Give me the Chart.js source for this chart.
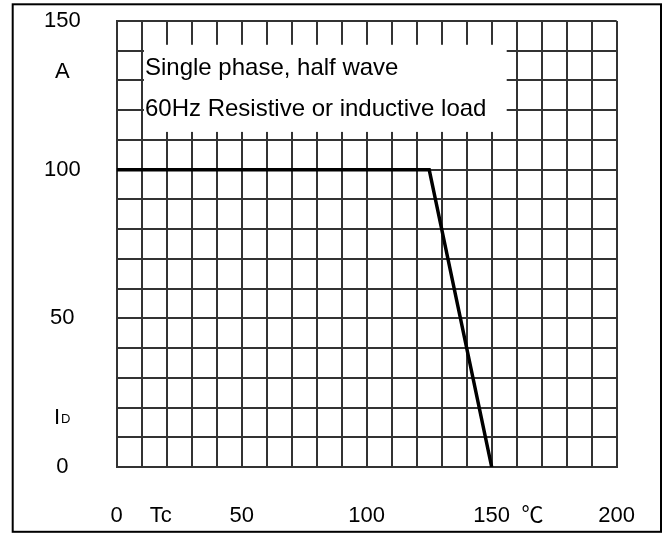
<!DOCTYPE html>
<html>
<head>
<meta charset="utf-8">
<script src="https://cdn.jsdelivr.net/npm/chart.js@4/dist/chart.umd.min.js"></script>
<style>
  body { margin: 0; background: #fff; }
  canvas { display: block; }
</style>
</head>
<body>
<canvas id="myChart" width="667" height="534"></canvas>
<script>
'use strict'

// derating curve: case temperature (°C) vs average forward current (A)
const tcValues = [0, 125, 150];
const idValues = [100, 100, 0];

// axis labels (unit names sit between the numbers)
const xTickVals = [0, 17.6, 50, 100, 150, 166.3, 200];
const xTickText = ['0', 'Tc', '50', '100', '150', '℃', '200'];
const yTickVals = [0, 17, 50, 100, 133, 150];
const yTickText = ['0', 'ID', '50', '100', 'A', '150'];

const noteLines = ['Single phase, half wave', '60Hz Resistive or inductive load'];

const FONT = "'Liberation Sans', Arial, 'Noto Sans CJK SC', sans-serif";
const GRID = '#333';

function noPad(s) {
  s.paddingTop = 0;
  s.paddingBottom = 0;
  s.paddingLeft = 0;
  s.paddingRight = 0;
}

const framePlugin = {
  id: 'frame',
  beforeDraw(chart) {
    const ctx = chart.ctx;
    ctx.save();
    ctx.fillStyle = '#fff';
    ctx.fillRect(0, 0, chart.width, chart.height);
    ctx.strokeStyle = '#000';
    ctx.lineWidth = 2;
    ctx.strokeRect(12.7, 4.3, 648.3, 527.5);
    ctx.restore();
  },
  beforeDatasetsDraw(chart) {
    // white note box over the grid
    const { ctx, scales: { x, y } } = chart;
    const l = x.getPixelForValue(10.9), r = x.getPixelForValue(156);
    const t = y.getPixelForValue(142), b = y.getPixelForValue(112.7);
    ctx.save();
    ctx.fillStyle = '#fff';
    ctx.fillRect(l, t, r - l, b - t);
    ctx.fillStyle = '#000';
    ctx.font = '24px ' + FONT;
    ctx.textBaseline = 'middle';
    ctx.fillText(noteLines[0], x.getPixelForValue(11.3), y.getPixelForValue(134.2));
    ctx.fillText(noteLines[1], x.getPixelForValue(11.3), y.getPixelForValue(120.4));
    ctx.restore();
  },
  afterDraw(chart) {
    // "ID" with a small subscript D
    const { ctx, chartArea } = chart;
    const yl = chart.scales.yl;
    const i = yTickText.indexOf('ID');
    const py = yl.getPixelForValue(yTickVals[i]);
    ctx.save();
    ctx.fillStyle = '#000';
    ctx.textBaseline = 'alphabetic';
    ctx.font = '22px ' + FONT;
    const wI = ctx.measureText('I').width;
    ctx.font = '13px ' + FONT;
    const wD = ctx.measureText('D').width;
    const cx = chartArea.left - 54.5;
    const x0 = cx - (wI + wD + 1) / 2;
    const base = py + 8;
    ctx.font = '22px ' + FONT;
    ctx.fillText('I', x0, base);
    ctx.font = '13px ' + FONT;
    ctx.fillText('D', x0 + wI + 1, base - 1.5);
    ctx.restore();
  }
};

function createChart() {
  const ctx = document.getElementById('myChart').getContext('2d');
  const points = tcValues.map((t, i) => ({ x: t, y: idValues[i] }));

  new Chart(ctx, {
    type: 'line',
    data: {
      datasets: [{
        data: points,
        borderColor: '#000',
        borderWidth: 3.5,
        pointRadius: 0,
        tension: 0,
        fill: false,
      }],
    },
    options: {
      responsive: false,
      animation: false,
      layout: { padding: { top: 21, right: 50.3, left: 0, bottom: 0 } },
      plugins: { legend: { display: false }, tooltip: { enabled: false } },
      scales: {
        x: {
          type: 'linear', position: 'bottom', weight: 0,
          min: 0, max: 200,
          ticks: { display: false, stepSize: 10 },
          grid: { color: GRID, lineWidth: 2, drawTicks: false },
          border: { color: GRID, width: 2 },
          afterFit: s => { s.height = 0; noPad(s); },
        },
        xl: {
          type: 'linear', position: 'bottom', weight: 1,
          min: 0, max: 200,
          afterBuildTicks: s => { s.ticks = xTickVals.map(v => ({ value: v })); },
          ticks: {
            autoSkip: false, maxRotation: 0, padding: 36, color: '#000',
            font: { size: 22, family: FONT },
            callback: (v, i) => xTickText[i],
          },
          grid: { display: false, drawTicks: false },
          border: { display: false },
          afterFit: s => { s.height = 67; noPad(s); },
        },
        y: {
          type: 'linear', position: 'left', weight: 0,
          min: 0, max: 150,
          ticks: { display: false, stepSize: 10 },
          grid: { color: GRID, lineWidth: 2, drawTicks: false },
          border: { color: GRID, width: 2 },
          afterFit: s => { s.width = 0; noPad(s); },
        },
        yl: {
          type: 'linear', position: 'left', weight: 1,
          min: 0, max: 150,
          afterBuildTicks: s => { s.ticks = yTickVals.map(v => ({ value: v })); },
          ticks: {
            autoSkip: false, padding: 36, crossAlign: 'center', color: '#000',
            font: { size: 22, family: FONT },
            callback: (v, i) => (yTickText[i] === 'ID' ? '' : yTickText[i]),
          },
          grid: { display: false, drawTicks: false },
          border: { display: false },
          afterFit: s => { s.width = 116.7; noPad(s); },
        },
      },
    },
    plugins: [framePlugin],
  });
}

createChart();
</script>
</body>
</html>
